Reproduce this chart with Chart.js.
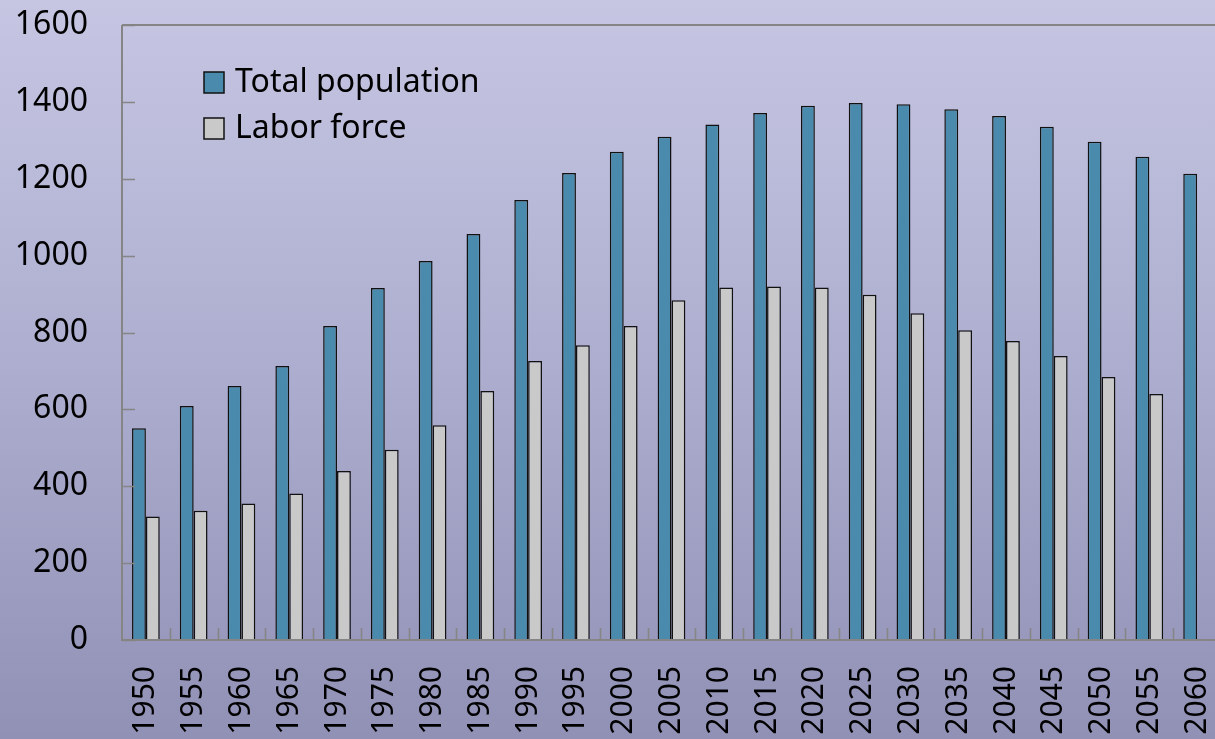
<!DOCTYPE html>
<html>
<head>
<meta charset="utf-8">
<script src="https://cdn.jsdelivr.net/npm/chart.js@4/dist/chart.umd.min.js"></script>
<style>
html,body{margin:0;padding:0;overflow:hidden;width:1215px;height:739px;background:#a8a8cc;}
#wrap{position:absolute;left:0;top:0;width:1222px;height:739px;}
canvas{display:block;}
</style>
</head>
<body>
<div id="wrap"><canvas id="c" width="1222" height="739"></canvas></div>
<script>
const categories = ['1950','1955','1960','1965','1970','1975','1980','1985','1990','1995','2000','2005','2010','2015','2020','2025','2030','2035','2040','2045','2050','2055','2060'];
const totalPopulation = [551,609,661,713,817,916,986,1056,1145,1215,1270,1309,1341,1371,1390,1397,1394,1381,1363,1335,1296,1257,1213];
const laborForce = [321,336,355,381,440,495,559,648,726,767,817,884,917,920,917,898,850,806,778,739,684,640,null];
const yTicks = [0,200,400,600,800,1000,1200,1400,1600];

const FONT = '"Noto Sans", "Open Sans", sans-serif';

const bgPlugin = {
  id:'bg',
  beforeDraw(chart){
    const {ctx,width,height}=chart;
    ctx.save();
    const g=ctx.createLinearGradient(0,0,0,height);
    g.addColorStop(0,'#c6c6e3');
    g.addColorStop(0.5,'#adadcf');
    g.addColorStop(1,'#9191b6');
    ctx.fillStyle=g;
    ctx.fillRect(0,0,width,height);
    ctx.restore();
  }
};

const axesPlugin = {
  id:'axesDeco',
  afterDatasetsDraw(chart){
    const {ctx,chartArea:a,scales:{x,y}}=chart;
    ctx.save();
    ctx.strokeStyle='#858585';
    ctx.lineWidth=2;
    ctx.beginPath();
    ctx.moveTo(a.left,a.top);ctx.lineTo(a.right+5,a.top);
    ctx.moveTo(a.left,a.top);ctx.lineTo(a.left,a.bottom);
    ctx.lineTo(a.right+5,a.bottom);
    ctx.stroke();
    ctx.lineWidth=1.5;
    ctx.beginPath();
    y.ticks.forEach((t,i)=>{
      const py=Math.round(y.getPixelForTick(i))+0.5;
      ctx.moveTo(a.left,py);ctx.lineTo(a.left+13,py);
    });
    const n=x.ticks.length;
    for(let i=0;i<n;i++){
      const c0=x.getPixelForTick(i);
      const c1=i<n-1?x.getPixelForTick(i+1):c0+(c0-x.getPixelForTick(i-1));
      const px=Math.round((c0+c1)/2)+0.5;
      ctx.moveTo(px,a.bottom);ctx.lineTo(px,a.bottom-12);
    }
    ctx.stroke();
    // legend
    const rows=chart.data.datasets;
    ctx.font='32px '+FONT;
    ctx.textBaseline='middle';
    rows.forEach((ds,i)=>{
      const by=72+i*46;
      ctx.fillStyle=ds.backgroundColor;
      ctx.fillRect(204,by,20,21);
      ctx.strokeStyle='#111';
      ctx.lineWidth=1.5;
      ctx.strokeRect(204,by,20,21);
      ctx.fillStyle='#000';
      ctx.fillText(ds.label,235,by+11);
    });
    ctx.restore();
  }
};

new Chart(document.getElementById('c'),{
  type:'bar',
  data:{
    labels:categories,
    datasets:[
      {label:'Total population',data:totalPopulation,backgroundColor:'#4a8aad',borderColor:'#111',borderWidth:1.5,borderSkipped:'bottom'},
      {label:'Labor force',data:laborForce,backgroundColor:'#c9c9c9',borderColor:'#111',borderWidth:1.5,borderSkipped:'bottom'}
    ]
  },
  options:{
    responsive:false,
    animation:false,
    devicePixelRatio:1,
    layout:{padding:{left:0,top:25,right:1,bottom:0}},
    plugins:{legend:{display:false},tooltip:{enabled:false}},
    datasets:{bar:{categoryPercentage:0.58,barPercentage:1.0}},
    scales:{
      x:{
        offset:true,
        grid:{display:true,drawOnChartArea:false,drawTicks:true,tickLength:20,color:'rgba(0,0,0,0)'},
        border:{display:false},
        ticks:{color:'#000',font:{family:FONT,size:30},minRotation:90,maxRotation:90,padding:6,autoSkip:false},
        afterFit(s){s.height=99;s.paddingLeft=0;s.paddingRight=0;}
      },
      y:{
        min:0,max:1600,
        afterBuildTicks(s){s.ticks=yTicks.map(v=>({value:v}));},
        grid:{display:true,drawOnChartArea:false,drawTicks:true,tickLength:30,color:'rgba(0,0,0,0)'},
        border:{display:false},
        ticks:{color:'#000',font:{family:FONT,size:32},padding:4,callback:(v)=>String(v)},
        afterFit(s){s.width=122;s.paddingTop=0;s.paddingBottom=0;}
      }
    }
  },
  plugins:[bgPlugin,axesPlugin]
});
</script>
</body>
</html>
